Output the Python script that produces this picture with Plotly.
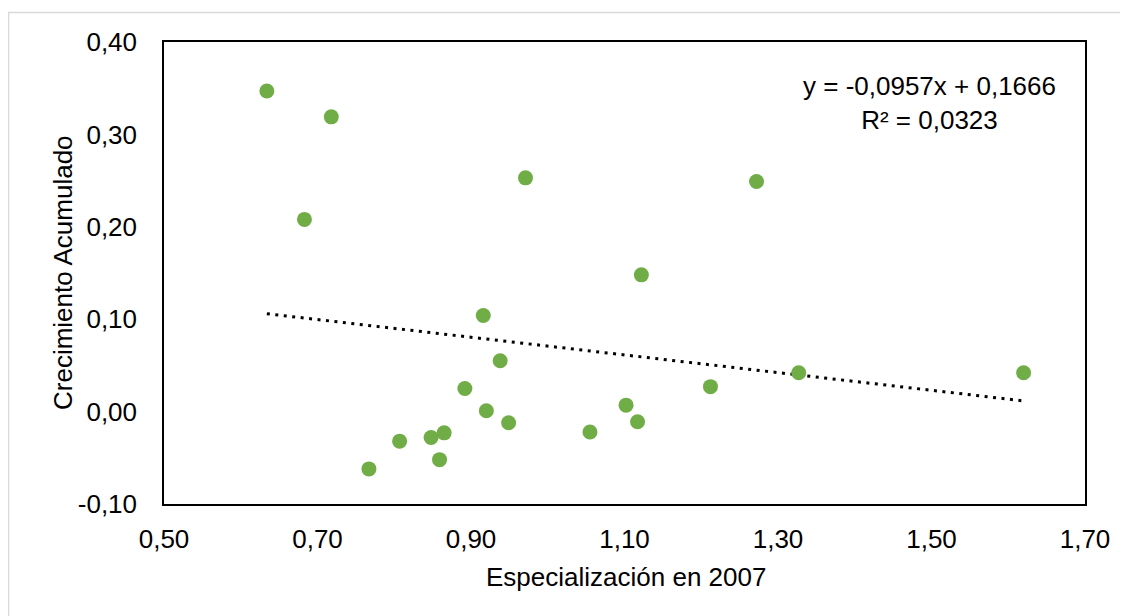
import plotly.graph_objects as go

# Data
especializacion = [0.634, 0.718, 0.683, 0.971, 1.272, 1.122, 0.916, 0.938, 0.892, 1.212, 1.327,
                   1.620, 0.920, 1.102, 0.949, 1.117, 1.055, 0.865, 0.848, 0.807, 0.859, 0.767]
crecimiento = [0.347, 0.319, 0.208, 0.253, 0.249, 0.148, 0.104, 0.055, 0.025, 0.027, 0.042,
               0.042, 0.001, 0.007, -0.012, -0.011, -0.022, -0.023, -0.028, -0.032, -0.052, -0.062]

slope = -0.0957
intercept = 0.1666
r2 = 0.0323

x_ticks = [0.50, 0.70, 0.90, 1.10, 1.30, 1.50, 1.70]
y_ticks = [-0.10, 0.00, 0.10, 0.20, 0.30, 0.40]

FONT = "Liberation Sans, Arial, sans-serif"
GREEN = "#70AD47"
FS = 26

def fmt(v, d):
    return f"{v:.{d}f}".replace(".", ",")

x_min, x_max = min(especializacion), max(especializacion)
trend_x = [x_min, x_max]
trend_y = [slope * v + intercept for v in trend_x]

fig = go.Figure()
fig.add_trace(go.Scatter(
    x=trend_x, y=trend_y, mode="lines",
    line=dict(color="black", width=3, dash="3px,5.5px"),
    hoverinfo="skip", showlegend=False,
))
fig.add_trace(go.Scatter(
    x=especializacion, y=crecimiento, mode="markers",
    marker=dict(color=GREEN, size=15, line=dict(width=0)),
    showlegend=False,
))

eq_text = f"y = {fmt(slope, 4)}x + {fmt(intercept, 4)}<br>R² = {fmt(r2, 4)}"

# page offset of the rendered figure (browser body margin)
OX, OY = 7, 8
L, T = 163 - OX, 42 - OY
PW, PH = 921, 462
R = 1128 - L - PW
B = 616 - T - PH

def px(x):  # reference pixel x -> paper
    return (x - 163) / PW

def py(y):  # reference pixel y -> paper
    return 1 - (y - 42) / PH

fig.update_layout(
    width=1128, height=616,
    margin=dict(l=L, r=R, t=T, b=B, pad=0),
    paper_bgcolor="white", plot_bgcolor="white",
    font=dict(family=FONT, size=FS, color="black"),
    xaxis=dict(
        range=[0.50, 1.70], tickvals=x_ticks, ticktext=[fmt(v, 2) for v in x_ticks],
        showgrid=False, zeroline=False, showline=True, mirror=True,
        linecolor="black", linewidth=1.5, ticks="", ticklabelstandoff=11,
        tickfont=dict(family=FONT, size=FS, color="black"),
    ),
    yaxis=dict(
        range=[-0.10, 0.40], tickvals=y_ticks, ticktext=[fmt(v, 2) for v in y_ticks],
        showgrid=False, zeroline=False, showline=True, mirror=True,
        linecolor="black", linewidth=1.5, ticks="", ticklabelstandoff=20,
        tickfont=dict(family=FONT, size=FS, color="black"),
    ),
    annotations=[
        dict(text=eq_text, xref="paper", yref="paper",
             x=px(928.5), y=py(103),
             xanchor="center", yanchor="middle", showarrow=False, align="center",
             font=dict(family=FONT, size=FS, color="black")),
        dict(text="Especialización en 2007", xref="paper", yref="paper",
             x=px(625), y=py(577),
             xanchor="center", yanchor="middle", showarrow=False,
             font=dict(family=FONT, size=FS, color="black")),
        dict(text="Crecimiento Acumulado", xref="paper", yref="paper",
             x=px(62), y=py(273), textangle=-90,
             xanchor="center", yanchor="middle", showarrow=False,
             font=dict(family=FONT, size=FS, color="black")),
    ],
    shapes=[
        dict(type="rect", xref="paper", yref="paper",
             x0=px(7.5), x1=px(1160),
             y0=py(640), y1=py(12.5),
             line=dict(color="#D9D9D9", width=1.5), fillcolor="rgba(0,0,0,0)",
             layer="below"),
    ],
)

fig.write_html("out.html")
